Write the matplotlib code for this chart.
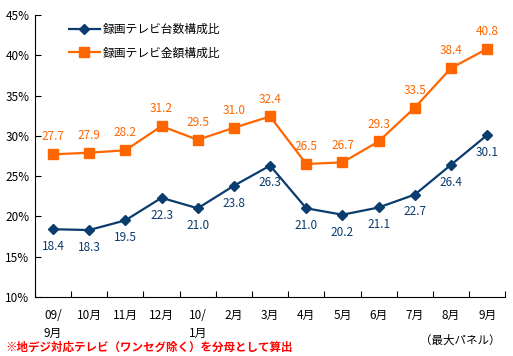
import numpy as np
import matplotlib
matplotlib.use("Agg")
import matplotlib.pyplot as plt

plt.rcParams['font.family'] = ['Noto Sans CJK JP', 'DejaVu Sans']

# データ
months = ['09/\n9月', '10月', '11月', '12月', '10/\n1月', '2月', '3月',
          '4月', '5月', '6月', '7月', '8月', '9月']
count_share = [18.4, 18.3, 19.5, 22.3, 21.0, 23.8, 26.3, 21.0, 20.2, 21.1, 22.7, 26.4, 30.1]
amount_share = [27.7, 27.9, 28.2, 31.2, 29.5, 31.0, 32.4, 26.5, 26.7, 29.3, 33.5, 38.4, 40.8]

navy = '#0B3C6E'
orange = '#FF6600'

fig = plt.figure(figsize=(5.13, 3.56), dpi=100)
ax = fig.add_axes([0.068, 0.166, 0.917, 0.792])

x = np.arange(len(months))
ax.plot(x, count_share, color=navy, lw=1.6, marker='D', ms=5.5, label='録画テレビ台数構成比')
ax.plot(x, amount_share, color=orange, lw=1.6, marker='s', ms=6.5, label='録画テレビ金額構成比')

# 数値ラベル
for i, v in enumerate(count_share):
    ax.annotate(f'{v:.1f}', (i, v), xytext=(0, -12.5), textcoords='offset points',
                ha='center', va='center', fontsize=8.5, color=navy)
for i, v in enumerate(amount_share):
    ax.annotate(f'{v:.1f}', (i, v), xytext=(0, 12.5), textcoords='offset points',
                ha='center', va='center', fontsize=8.5, color=orange)

ax.set_xlim(-0.5, len(months) - 0.5)
ax.set_ylim(10, 45)
ax.set_yticks(np.arange(10, 46, 5))
ax.set_yticklabels([f'{t}%' for t in range(10, 46, 5)], fontsize=8.5)

ax.set_xticks(np.arange(-0.5, len(months), 1))
ax.set_xticklabels([])
ax.set_xticks(x, minor=True)
ax.set_xticklabels(months, minor=True, fontsize=8.5, va='top', linespacing=1.5)
ax.tick_params(axis='x', which='minor', length=0, pad=9)
ax.tick_params(axis='x', which='major', direction='in', length=4)
ax.tick_params(axis='y', direction='in', length=4, pad=4)

for s in ['top', 'right']:
    ax.spines[s].set_visible(False)

ax.legend(loc='upper left', bbox_to_anchor=(0.05, 1.01), frameon=False, fontsize=8.5,
          handlelength=2.6, handletextpad=0.3, labelspacing=0.9)

fig.text(0.01, 0.025, '※地デジ対応テレビ（ワンセグ除く）を分母として算出', color='red',
         fontsize=8.3, fontweight='bold', ha='left', va='center')
fig.text(0.975, 0.045, '（最大パネル）', fontsize=8.3, ha='right', va='center')

fig.savefig('out.png', dpi=100)
